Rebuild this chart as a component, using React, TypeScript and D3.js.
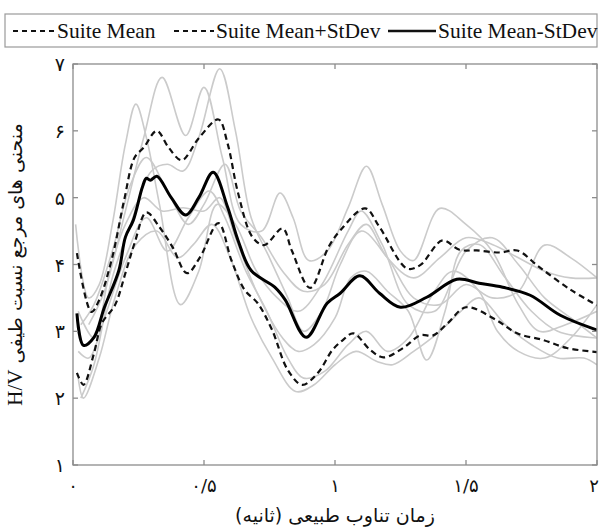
import React, { useEffect } from "react";
import * as d3 from "d3";

type Pt = [number, number];

// x tick values and their Persian labels
const xTicks = [0, 0.5, 1, 1.5, 2];
const xTickLabels = ["۰", "۰/۵", "۱", "۱/۵", "۲"];
const yTicks = [1, 2, 3, 4, 5, 6, 7];
const yTickLabels = ["۱", "۲", "۳", "۴", "۵", "۶", "۷"];

const legendLabels = ["Suite Mean", "Suite Mean+StDev", "Suite Mean-StDev"];

// mean curve (solid black)
const meanCurve: Pt[] = [
  [0.015, 3.27], [0.04, 2.79], [0.08, 2.91], [0.12, 3.36], [0.175, 3.91], [0.2, 4.41],
  [0.23, 4.66], [0.265, 5.16], [0.28, 5.29], [0.295, 5.26], [0.32, 5.32], [0.375, 5.0],
  [0.43, 4.74], [0.48, 5.0], [0.535, 5.38], [0.59, 4.86], [0.63, 4.36], [0.68, 3.91],
  [0.77, 3.66], [0.81, 3.47], [0.89, 2.91], [0.97, 3.42], [1.02, 3.57], [1.095, 3.83],
  [1.17, 3.57], [1.25, 3.36], [1.35, 3.51], [1.465, 3.78], [1.55, 3.72], [1.64, 3.66],
  [1.745, 3.54], [1.86, 3.24], [2.0, 3.02],
];

// mean + stdev (dashed, upper)
const upperCurve: Pt[] = [
  [0.015, 4.17], [0.07, 3.29], [0.1, 3.47], [0.15, 4.11], [0.195, 4.96], [0.235, 5.6],
  [0.27, 5.75], [0.32, 6.0], [0.365, 5.75], [0.415, 5.56], [0.48, 5.89], [0.555, 6.17],
  [0.59, 5.81], [0.63, 5.07], [0.685, 4.41], [0.73, 4.29], [0.8, 4.54], [0.835, 4.21],
  [0.905, 3.65], [0.975, 4.26], [1.02, 4.51], [1.115, 4.84], [1.17, 4.56], [1.275, 3.94],
  [1.325, 3.99], [1.41, 4.36], [1.475, 4.22], [1.54, 4.21], [1.63, 4.18], [1.695, 4.21],
  [1.78, 3.96], [1.9, 3.62], [2.0, 3.39],
];

// mean - stdev (dashed, lower)
const lowerCurve: Pt[] = [
  [0.015, 2.38], [0.04, 2.2], [0.08, 2.67], [0.11, 3.12], [0.16, 3.39], [0.2, 3.87],
  [0.235, 4.32], [0.28, 4.78], [0.33, 4.56], [0.38, 4.26], [0.435, 3.87], [0.485, 4.11],
  [0.555, 4.62], [0.605, 4.06], [0.655, 3.62], [0.705, 3.42], [0.76, 3.02], [0.82, 2.42],
  [0.875, 2.2], [0.935, 2.38], [0.99, 2.72], [1.03, 2.87], [1.07, 2.97], [1.135, 2.72],
  [1.185, 2.61], [1.26, 2.75], [1.325, 2.94], [1.375, 2.94], [1.43, 3.12], [1.5, 3.36],
  [1.615, 3.17], [1.695, 2.97], [1.795, 2.87], [1.885, 2.75], [2.0, 2.69],
];

// individual records (light grey)
const record1: Pt[] = [
  [0.01, 4.6], [0.06, 3.5], [0.1, 3.7], [0.15, 4.6], [0.2, 5.8], [0.24, 6.4], [0.28, 5.9],
  [0.33, 4.9], [0.41, 3.4], [0.48, 3.9], [0.55, 4.9], [0.62, 4.6], [0.7, 3.9], [0.78, 3.5],
  [0.86, 3.3], [0.95, 3.7], [1.05, 4.5], [1.1, 4.8], [1.18, 4.3], [1.28, 3.4], [1.38, 3.3],
  [1.5, 4.2], [1.6, 4.4], [1.7, 4.0], [1.8, 3.5], [1.9, 3.2], [2.0, 2.9],
];
const record2: Pt[] = [
  [0.06, 3.1], [0.12, 3.6], [0.2, 4.8], [0.27, 5.9], [0.34, 6.8], [0.43, 5.93], [0.5, 6.65],
  [0.57, 5.6], [0.64, 4.6], [0.72, 4.5], [0.79, 5.07], [0.84, 4.7], [0.9, 4.06], [0.97, 4.2],
  [1.05, 4.85], [1.12, 5.47], [1.18, 4.9], [1.25, 4.2], [1.3, 4.06], [1.4, 4.84], [1.5, 4.6],
  [1.6, 4.2], [1.7, 3.4], [1.78, 3.0], [1.88, 3.1], [2.0, 3.3],
];
const record3: Pt[] = [
  [0.03, 2.0], [0.08, 2.5], [0.15, 3.8], [0.22, 4.6], [0.3, 5.4], [0.36, 5.5], [0.42, 5.4],
  [0.48, 5.9], [0.56, 6.93], [0.62, 6.0], [0.68, 4.7], [0.75, 4.1], [0.82, 3.5], [0.88, 3.0],
  [0.95, 3.3], [1.02, 4.0], [1.1, 4.5], [1.2, 4.1], [1.3, 3.5], [1.4, 3.4], [1.5, 3.7],
  [1.6, 3.5], [1.7, 3.6], [1.8, 4.29], [1.9, 4.1], [2.0, 3.8],
];
const record4: Pt[] = [
  [0.02, 2.3], [0.04, 2.0], [0.1, 2.6], [0.16, 3.5], [0.24, 4.3], [0.32, 4.5], [0.4, 4.1],
  [0.46, 4.3], [0.53, 4.6], [0.6, 4.1], [0.68, 3.2], [0.76, 2.6], [0.85, 2.1], [0.92, 2.2],
  [1.0, 2.5], [1.08, 2.7], [1.16, 2.55], [1.22, 2.5], [1.3, 2.7], [1.4, 3.0], [1.48, 3.3],
  [1.55, 3.5], [1.65, 3.1], [1.75, 2.8], [1.85, 2.6], [1.95, 2.6], [2.0, 2.5],
];
const record5: Pt[] = [
  [0.02, 3.3], [0.08, 2.9], [0.14, 3.9], [0.2, 4.6], [0.27, 5.0], [0.34, 4.8], [0.42, 4.85],
  [0.5, 4.8], [0.56, 5.0], [0.62, 4.4], [0.7, 3.6], [0.8, 2.9], [0.86, 2.7], [0.92, 2.8],
  [1.0, 3.2], [1.06, 3.8], [1.12, 3.9], [1.2, 3.6], [1.28, 3.3], [1.35, 2.57], [1.42, 3.3],
  [1.48, 4.2], [1.55, 4.3], [1.65, 3.8], [1.75, 3.3], [1.85, 3.0], [2.0, 2.9],
];
const record6: Pt[] = [
  [0.02, 2.7], [0.06, 2.6], [0.12, 3.2], [0.2, 4.1], [0.28, 4.7], [0.36, 4.2], [0.44, 4.7],
  [0.52, 5.1], [0.58, 4.7], [0.66, 3.9], [0.74, 3.3], [0.82, 2.6], [0.88, 2.3], [0.96, 2.4],
  [1.05, 2.8], [1.12, 3.0], [1.2, 2.7], [1.28, 2.9], [1.38, 3.6], [1.45, 3.9], [1.55, 3.6],
  [1.62, 3.0], [1.7, 2.7], [1.8, 2.6], [1.9, 2.9], [2.0, 3.4],
];
const record7: Pt[] = [
  [0.03, 3.1], [0.08, 3.4], [0.15, 4.2], [0.22, 5.2], [0.28, 5.6], [0.36, 5.1], [0.44, 4.6],
  [0.5, 4.9], [0.58, 5.5], [0.64, 4.8], [0.72, 4.4], [0.8, 3.9], [0.88, 3.6], [0.96, 3.7],
  [1.05, 4.3], [1.12, 4.6], [1.2, 4.1], [1.3, 3.8], [1.4, 4.1], [1.5, 4.4], [1.6, 4.3],
  [1.7, 4.1], [1.8, 3.9], [1.9, 3.8], [2.0, 3.8],
];
const records = [record1, record2, record3, record4, record5, record6, record7];

const W = 600;
const H = 531;
const margin = { top: 64, right: 3, bottom: 66, left: 73 };

const App = () => {
  useEffect(() => {
    document.body.style.margin = "0";
  }, []);

  const x = d3.scaleLinear().domain([0, 2]).range([margin.left, W - margin.right]);
  const y = d3.scaleLinear().domain([1, 7]).range([H - margin.bottom, margin.top]);

  const line = d3
    .line<Pt>()
    .x((d) => x(d[0]))
    .y((d) => y(d[1]))
    .curve(d3.curveCatmullRom.alpha(0.5));

  const axisColor = "#8c8c8c";
  const serif = "'Liberation Serif', 'Times New Roman', 'DejaVu Serif', serif";
  const persian = "'DejaVu Sans', 'Noto Sans', sans-serif";
  const [x0, x1] = x.range();
  const [yb, yt] = y.range();

  // legend entries: sample line span and text start
  const legendItems = [
    { a: 13, b: 55, tx: 57, dash: "5,4" },
    { a: 174, b: 214, tx: 216, dash: "5,4" },
    { a: 388, b: 436, tx: 438, dash: "" },
  ];

  return (
    <svg width={W} height={H} style={{ display: "block", background: "#fff" }}>
      {/* legend */}
      <g>
        <rect x={5} y={14} width={592} height={33} fill="#fff" stroke="#9a9a9a" strokeWidth={1.2} />
        {legendItems.map((it, i) => (
          <g key={"lg" + i}>
            <line
              x1={it.a}
              x2={it.b}
              y1={31}
              y2={31}
              stroke="#111"
              strokeWidth={it.dash ? 2 : 2.4}
              strokeDasharray={it.dash || undefined}
            />
            <text x={it.tx} y={38} fontFamily={serif} fontSize={21.5} fill="#111">
              {legendLabels[i]}
            </text>
          </g>
        ))}
      </g>

      <defs>
        <clipPath id="plotClip">
          <rect x={x0} y={yt} width={x1 - x0} height={yb - yt} />
        </clipPath>
      </defs>

      <g clipPath="url(#plotClip)">
        {records.map((r, i) => (
          <path key={i} d={line(r) ?? ""} fill="none" stroke="#cbcbcb" strokeWidth={1.6} />
        ))}
        <path d={line(upperCurve) ?? ""} fill="none" stroke="#111" strokeWidth={2.2} strokeDasharray="6,4" />
        <path d={line(lowerCurve) ?? ""} fill="none" stroke="#111" strokeWidth={2.2} strokeDasharray="6,4" />
        <path d={line(meanCurve) ?? ""} fill="none" stroke="#000" strokeWidth={3} />
      </g>

      {/* frame and inward ticks */}
      <rect x={x0} y={yt} width={x1 - x0} height={yb - yt} fill="none" stroke={axisColor} strokeWidth={1.3} />
      {xTicks.map((t, i) => {
        const last = i === xTicks.length - 1;
        return (
          <g key={"xt" + i}>
            <line x1={x(t)} x2={x(t)} y1={yb} y2={yb - 5} stroke={axisColor} strokeWidth={1.3} />
            <line x1={x(t)} x2={x(t)} y1={yt} y2={yt + 5} stroke={axisColor} strokeWidth={1.3} />
            <text
              x={last ? W - 1 : x(t)}
              y={yb + 27}
              textAnchor={last ? "end" : "middle"}
              fontFamily={persian}
              fontSize={18}
              fill="#111"
            >
              {xTickLabels[i]}
            </text>
          </g>
        );
      })}
      {yTicks.map((t, i) => (
        <g key={"yt" + i}>
          <line x1={x0} x2={x0 + 5} y1={y(t)} y2={y(t)} stroke={axisColor} strokeWidth={1.3} />
          <line x1={x1} x2={x1 - 5} y1={y(t)} y2={y(t)} stroke={axisColor} strokeWidth={1.3} />
          <text x={x0 - 8} y={y(t) + 7} textAnchor="end" fontFamily={persian} fontSize={19} fill="#111">
            {yTickLabels[i]}
          </text>
        </g>
      ))}

      {/* axis titles */}
      <text x={(x0 + x1) / 2} y={H - 9} textAnchor="middle" fontFamily={persian} fontSize={19} fill="#111">
        زمان تناوب طبیعی (ثانیه)
      </text>
      <text
        transform={`translate(22,${(yt + yb) / 2}) rotate(-90)`}
        textAnchor="middle"
        fontFamily={persian}
        fontSize={19}
        fill="#111"
      >
        <tspan fontFamily={serif} fontSize={21}>H/V</tspan>
        {" منحنی های مرجع نسبت طیفی"}
      </text>
    </svg>
  );
};

export default App;
